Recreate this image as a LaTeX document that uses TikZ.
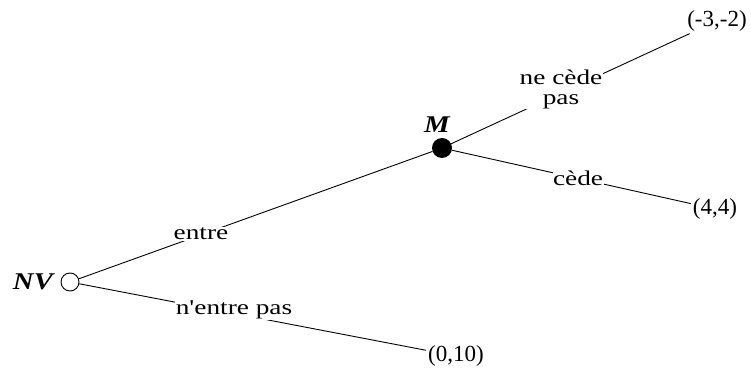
\documentclass[tikz,border=0pt]{standalone}
\usepackage{fontspec}
\setmainfont{Liberation Serif}
\newfontfamily\wordfont[FakeStretch=1.3]{Liberation Serif}
\newfontfamily\playerfont[FakeStretch=1.2]{Liberation Serif}
\begin{document}
\begin{tikzpicture}[x=1pt,y=1pt,
  edge/.style={line width=0.9pt},
  lab/.style={font=\wordfont\fontsize{21}{20}\selectfont, fill=white, inner sep=0.5pt, align=center},
  payoff/.style={font=\fontsize{23}{25}\selectfont, inner sep=2pt},
  player/.style={font=\playerfont\fontsize{24}{26}\selectfont\bfseries\itshape, inner sep=0pt},
  opennode/.style={circle, draw, line width=0.9pt, fill=white, minimum size=18pt, inner sep=0pt},
  fullnode/.style={circle, fill=black, minimum size=20pt, inner sep=0pt}]
\useasboundingbox (0,0) rectangle (751,369);
\node[opennode] (nv) at (70,87) {};
\node[fullnode] (m) at (442,221) {};
\node[player] (nvl) at (33,87) {NV};
\node[player] (ml) at (437,244) {M};
\node[payoff] (p1) at (717,348) {(-3,-2)};
\node[payoff] (p2) at (715,160) {(4,4)};
\node[payoff] (p3) at (456,13) {(0,10)};
\draw[edge] (nv) -- (m);
\draw[edge] (nv) -- (p3);
\draw[edge] (m) -- (p1);
\draw[edge] (m) -- (p2);
\node[lab] (l1) at (201,135) {entre};
\node[lab] (l2) at (234,59) {n'entre pas};
\node[lab] (l3) at (561,280) {ne cède\\pas};
\node[lab] (l4) at (578,191) {cède};
\end{tikzpicture}
\end{document}
